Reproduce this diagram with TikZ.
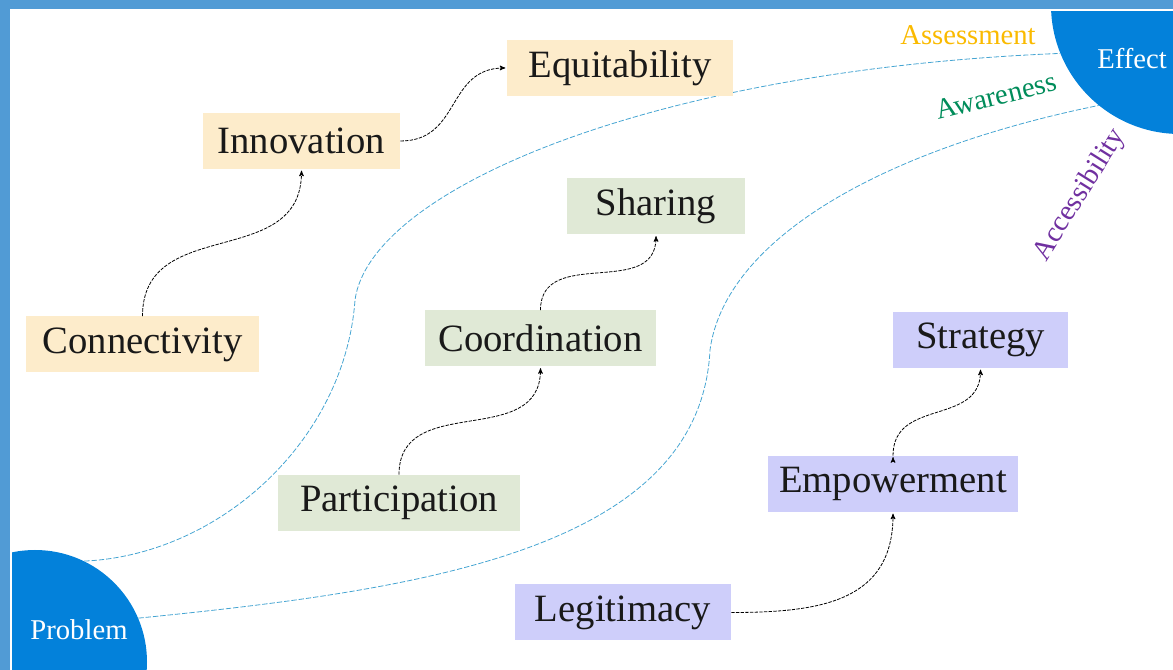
\documentclass[tikz,border=0pt]{standalone}
\usepackage{fontspec}
\setmainfont{Liberation Serif}
\usepackage{tikz}
\usetikzlibrary{shapes,arrows}

\definecolor{frameblue}{RGB}{81,155,213}
\definecolor{discblue}{RGB}{3,129,218}
\definecolor{trackblue}{RGB}{70,165,210}
\definecolor{boxorange}{RGB}{253,236,203}
\definecolor{boxgreen}{RGB}{224,233,214}
\definecolor{boxpurple}{RGB}{206,206,250}
\definecolor{gold}{RGB}{250,186,0}
\definecolor{teal}{RGB}{0,140,90}
\definecolor{violet}{RGB}{112,48,160}

\begin{document}
\begin{tikzpicture}[x=0.75pt,y=0.75pt,>=stealth',font=\fontsize{29}{34}\selectfont]
\tikzstyle{every node}=[text=black!90]
\tikzstyle{box}=[rectangle,minimum height=42pt,inner sep=0pt]
\tikzstyle{orange box}=[box,fill=boxorange]
\tikzstyle{green box}=[box,fill=boxgreen]
\tikzstyle{purple box}=[box,fill=boxpurple]
\tikzstyle{disc}=[circle,fill=discblue,inner sep=0pt]
\tikzstyle{small}=[font=\fontsize{21.5}{26}\selectfont]
\tikzstyle{flow}=[->,draw=black,line width=0.6pt,dash pattern=on 2.5pt off 1pt,shorten >=1pt,looseness=1.2]
\tikzstyle{track}=[draw=trackblue,line width=0.6pt,dash pattern=on 4pt off 1.5pt]

\useasboundingbox (0,0) rectangle (1173,670);
\clip (0,0) rectangle (1173,670);

% the two ends
\node[disc,minimum size=168pt] (problem) at (35,8) {};
\node[disc,minimum size=193.5pt] (effect) at (1180,665) {};
\draw[white,line width=1.5pt] (11,0) -- (11,660) -- (1173,660);
\fill[frameblue] (0,661) rectangle (1173,670);
\fill[frameblue] (0,0) rectangle (10,670);
\node[small,text=white] (problemtext) at (79,40) {Problem};
\node[small,text=white] (effecttext) at (1132,611) {Effect};

% the two tracks
\path[track] (problem.64) .. controls (220,115) and (345,230) .. (355,370)
      .. controls (370,480) and (650,600) .. (effect.202);
\path[track] (problem.23) .. controls (420,80) and (700,120) .. (710,320)
      .. controls (725,430) and (880,520) .. (effect.231);
\node[small,text=gold] (assessment) at (968,635) {Assessment};
\node[small,text=teal,rotate=14] (awareness) at (996,574) {Awareness};
\node[small,text=violet,rotate=58] (accessibility) at (1080,475) {Accessibility};

% boxes
\node[orange box,minimum width=175pt] (connectivity) at (142.5,325.5) {Connectivity};
\node[orange box,minimum width=148pt] (innovation) at (301.5,529) {Innovation};
\node[orange box,minimum width=169.5pt] (equitability) at (620,602) {Equitability};
\node[green box,minimum width=181.5pt] (participation) at (399,167) {Participation};
\node[green box,minimum width=173pt] (coordination) at (540.5,331.5) {Coordination};
\node[green box,minimum width=133.5pt] (sharing) at (656,463.5) {Sharing};
\node[purple box,minimum width=162pt] (legitimacy) at (623,57.5) {Legitimacy};
\node[purple box,minimum width=187.5pt] (empowerment) at (893,186) {Empowerment};
\node[purple box,minimum width=131pt] (strategy) at (980.5,330) {Strategy};

% arrows
\path[flow] (connectivity.north) edge[out=90,in=-90] (innovation.south)
            (innovation.east) edge[out=0,in=180] (equitability.west)
            (participation.north) edge[out=90,in=-90] (coordination.south)
            (coordination.north) edge[out=90,in=-90] (sharing.south)
            (legitimacy.east) edge[out=0,in=-90] (empowerment.south)
            (empowerment.north) edge[out=90,in=-90] (strategy.south);
\end{tikzpicture}
\end{document}
